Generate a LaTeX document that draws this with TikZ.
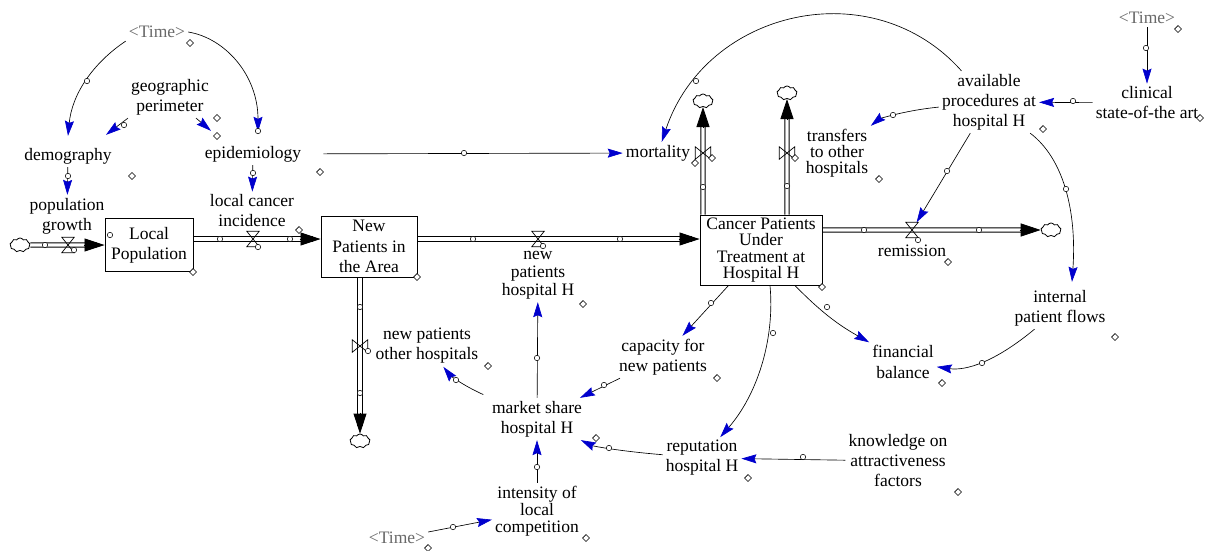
\documentclass[tikz,border=0pt]{standalone}
\usepackage{fontspec}
\setmainfont{Liberation Serif}
\usetikzlibrary{arrows.meta,shapes.symbols,calc}
\definecolor{vblue}{RGB}{0,0,205}
\definecolor{tgray}{RGB}{105,105,105}
\newcommand\vf[1]{\fontsize{17.5}{#1}\selectfont}
\newcommand\hcirc[1]{\draw[hcs] #1 circle (2.7pt);}
\newcommand\hdiam[1]{\draw[hcs] #1 ++(-3.4,0) -- ++(3.4,3.4) -- ++(3.4,-3.4) -- ++(-3.4,-3.4) -- cycle;}
\newcommand\valveH[1]{\draw[valvestyle] (#1.north west) -- (#1.north east) -- (#1.south west) -- (#1.south east) -- cycle;}
\newcommand\valveV[1]{\draw[valvestyle] (#1.north west) -- (#1.south west) -- (#1.north east) -- (#1.south east) -- cycle;}
\newcommand\pipeH[2]{\draw[pipeedge] ([yshift=2.1pt]#1) -- ([yshift=2.1pt]#2); \draw[pipeedge] ([yshift=-2.1pt]#1) -- ([yshift=-2.1pt]#2);}
\newcommand\pipeV[2]{\draw[pipeedge] ([xshift=2.1pt]#1) -- ([xshift=2.1pt]#2); \draw[pipeedge] ([xshift=-2.1pt]#1) -- ([xshift=-2.1pt]#2);}
\begin{document}
\begin{tikzpicture}[x=1pt,y=-1pt,
  var/.style={font=\vf{20}, align=center, inner sep=3pt},
  stockbox/.style={draw, line width=0.9pt, align=center, inner sep=0pt},
  link/.style={line width=0.65pt, -{Stealth[length=15pt,width=9pt,inset=2pt,color=vblue]}},
  pipeedge/.style={line width=0.9pt},
  flowhead/.style={line width=0.8pt, -{Triangle[length=20pt,width=13pt]}},
  valvestyle/.style={line width=0.7pt},
  hcs/.style={draw=black, fill=white, line width=0.55pt},
  cloudnode/.style={cloud, draw, line width=0.8pt, cloud puffs=9, cloud puff arc=120, aspect=1.4, minimum width=20pt, minimum height=14pt, inner sep=0pt},
  vnode/.style={inner sep=0pt, minimum width=12pt, minimum height=15pt},
  vvnode/.style={inner sep=0pt, minimum width=15pt, minimum height=12pt},
]
\fill[white] (0,0) rectangle (1207,550);
\useasboundingbox (0,0) rectangle (1207,550);

% ---------- variables ----------
\node[var, text=tgray] (time1) at (157,32) {<Time>};
\node[var] (geo) at (170,97) {geographic\\perimeter};
\node[var] (demo) at (68,156) {demography};
\node[var] (epi) at (253,154) {epidemiology};
\node[var] (popg) at (67,216) {population\\growth};
\node[var] (lci) at (252,211) {local cancer\\incidence};
\node[var] (mort) at (658,153) {mortality};
\node[var, font=\vf{16}] (transf) at (837,153) {transfers\\to other\\hospitals};
\node[var, font=\vf{18}] (newph) at (538,275) {new\\patients\\hospital H};
\node[var] (avail) at (989,102) {available\\procedures at\\hospital H};
\node[var, text=tgray] (time2) at (1147,18) {<Time>};
\node[var] (clin) at (1147,103) {clinical\\state-of-the art};
\node[var] (remis) at (912,251) {remission};
\node[var] (ipf) at (1060,308) {internal\\patient flows};
\node[var, font=\vf{21}] (fin) at (903,362) {financial\\balance};
\node[var] (cap) at (663,357) {capacity for\\new patients};
\node[var] (rep) at (702,458) {reputation\\hospital H};
\node[var] (know) at (898,461) {knowledge on\\attractiveness\\factors};
\node[var] (npo) at (427,346) {new patients\\other hospitals};
\node[var] (msh) at (537,419) {market share\\hospital H};
\node[var, font=\vf{17}] (intens) at (537,511) {intensity of\\local\\competition};
\node[var, text=tgray] (time3) at (397,538) {<Time>};

% ---------- stocks ----------
\node[stockbox, minimum width=88pt, minimum height=53pt, font=\vf{20}] (localpop) at (149,245) {Local\\Population};
\node[stockbox, minimum width=96pt, minimum height=61pt, font=\vf{20.5}] (newpat) at (369,246.5) {New\\Patients in\\the Area};
\node[stockbox, minimum width=122pt, minimum height=70pt, font=\vf{16.3}] (cancer) at (761,250) {Cancer Patients\\Under\\Treatment at\\Hospital H};

% ---------- clouds ----------
\node[cloudnode] (c1) at (20,245) {};
\node[cloudnode] (c2) at (703,101) {};
\node[cloudnode] (c3) at (787,93) {};
\node[cloudnode] (c4) at (1051,230) {};
\node[cloudnode] (c5) at (360,441) {};

% ---------- pipe end points ----------
\coordinate (p1s) at (c1.east);
\coordinate (p1e) at ([xshift=-8pt]localpop.west);
\coordinate (p2s) at ([yshift=6pt]localpop.east);
\coordinate (p2e) at ([xshift=-8pt,yshift=7.5pt]newpat.west);
\coordinate (p3s) at ([yshift=7.5pt]newpat.east);
\coordinate (p3e) at ([xshift=-8pt,yshift=11pt]cancer.west);
\coordinate (p4s) at ([xshift=-58pt]cancer.north);
\coordinate (p4e) at ([yshift=-8pt]c2.south);
\coordinate (p5s) at ([xshift=26pt]cancer.north);
\coordinate (p5e) at ([yshift=-8pt]c3.south);
\coordinate (p6s) at ([yshift=20pt]cancer.east);
\coordinate (p6e) at ([xshift=-8pt]c4.west);
\coordinate (p7s) at ([xshift=-9pt]newpat.south);
\coordinate (p7e) at ([yshift=8pt]c5.north);

% ---------- pipes ----------
\pipeH{p1s}{p1e}
\draw[flowhead] ([xshift=-21pt]localpop.west) -- (localpop.west);
\pipeH{p2s}{p2e}
\draw[flowhead] ([xshift=-21pt,yshift=7.5pt]newpat.west) -- ([yshift=7.5pt]newpat.west);
\pipeH{p3s}{p3e}
\draw[flowhead] ([xshift=-21pt,yshift=11pt]cancer.west) -- ([yshift=11pt]cancer.west);
\pipeV{p4s}{p4e}
\draw[flowhead] ([yshift=-21pt]c2.south) -- (c2.south);
\pipeV{p5s}{p5e}
\draw[flowhead] ([yshift=-21pt]c3.south) -- (c3.south);
\pipeH{p6s}{p6e}
\draw[flowhead] ([xshift=-21pt]c4.west) -- (c4.west);
\pipeV{p7s}{p7e}
\draw[flowhead] ([yshift=21pt]c5.north) -- (c5.north);

% ---------- valves ----------
\node[vnode] (v1) at (68,245) {};
\node[vnode] (v2) at (253,239) {};
\node[vnode] (v3) at (538,239) {};
\node[vvnode] (v4) at (703,153) {};
\node[vvnode] (v5) at (787,153) {};
\node[vnode] (v6) at (912,230) {};
\node[vvnode] (v7) at (360,346) {};
\valveH{v1} \valveH{v2} \valveH{v3} \valveV{v4} \valveV{v5} \valveH{v6} \valveV{v7}

% ---------- information links ----------
\draw[link] (time1.south west) .. controls (93,63) and (72,94) .. ([yshift=9pt]demo.north);
\draw[link] (time1.east) .. controls (225,38) and (258,75) .. ([xshift=5pt,yshift=11pt]epi.north);
\draw[link] (geo.south west) -- ([xshift=38pt,yshift=10pt]demo.north);
\draw[link] ([xshift=-16pt]geo.south east) -- ([xshift=-42pt,yshift=12pt]epi.north);
\draw[link] (demo) -- (popg);
\draw[link] (epi) -- (lci);
\draw[link, shorten <=19pt] (epi) -- (mort);
\draw[link] (avail) .. controls (873,-29) and (706,9) .. (mort);
\draw[link] (clin) -- (avail);
\draw[link] (time2) -- (clin);
\draw[link] (avail) .. controls (900,111) and (878,120) .. (transf);
\draw[link] (avail) -- (v6);
\draw[link] (avail) .. controls (1063,158) and (1077,210) .. ([xshift=12pt,yshift=5pt]ipf.north);
\draw[link] (time3) -- (intens);
\draw[link] (intens) -- (msh);
\draw[link] (msh) -- (newph);
\draw[link, shorten <=8pt] (msh) .. controls (460,384) and (449,374) .. (npo);
\draw[link] (cap) -- (msh);
\draw[link] (rep) .. controls (618,451) and (593,446) .. (msh);
\draw[link] (know) -- (rep);
\draw[link] (cancer) -- (cap);
\draw[link] ([xshift=9pt]cancer.south) .. controls (775,340) and (757,395) .. (rep);
\draw[link] (cancer) to[bend right=8] (fin);
\draw[link] (ipf) .. controls (995,362) and (966,371) .. (fin);

% ---------- handles ----------
\foreach \p in {(87,81),(258,131),(124,125),(68,176),(253,173),(464,153),(696,81),(1073,101),(1146,48),(893,115),(947,171),(1066,189),(453,527),(537,467),(537,358),(456,380),(604,385),(609,448),(803,457),(711,303),(773,333),(827,307),(982,363),
  (45,245),(220,239),(290,239),(473,239),(620,239),(703,187),(787,186),(864,230),(979,230),(360,307),(360,393),
  (74,250),(258,247),(543,246),(918,240),(368,351),(110,235)}
  {\hcirc{\p}}
\foreach \p in {(190,43),(217,118),(217,136),(132,176),(320,172),(695,163),(712,158),(795,158),(879,179),(1043,129),(1178,29),(1200,118),(948,262),(1115,337),(942,383),(717,378),(748,478),(958,492),(488,366),(596,438),(583,304),(586,538),(428,548),(193,272),(417,277),(822,287),(299,230)}
  {\hdiam{\p}}
\end{tikzpicture}
\end{document}
